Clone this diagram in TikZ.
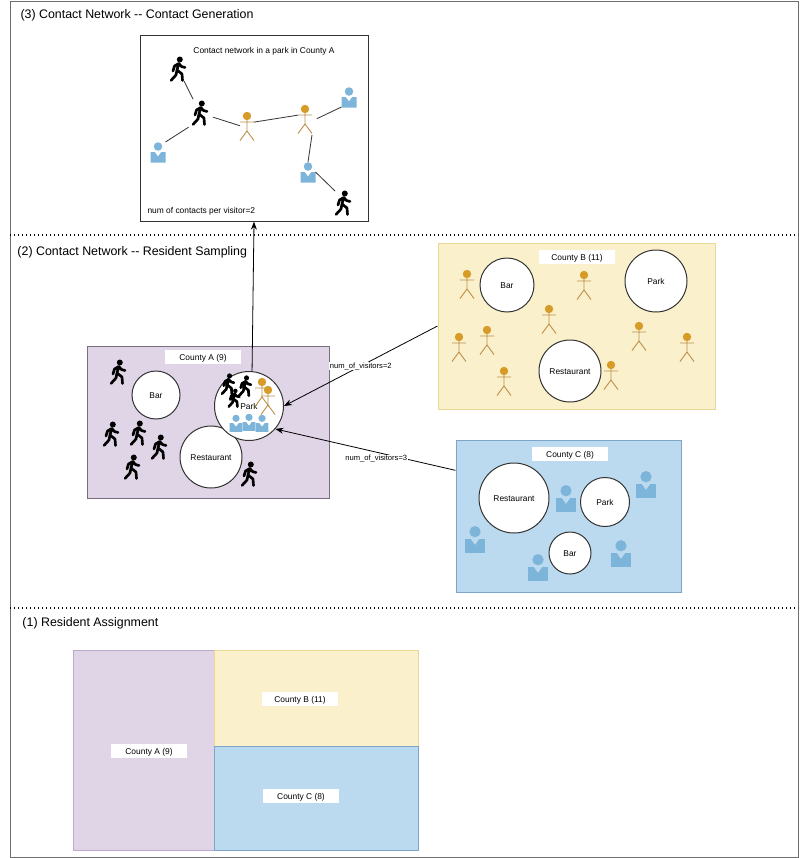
\documentclass[tikz,border=0pt]{standalone}
\usepackage{fontspec}
\setmainfont{Liberation Sans}
\usetikzlibrary{arrows.meta}

\definecolor{frameclr}{RGB}{110,110,110}
\definecolor{clrA}{RGB}{223,213,230}
\definecolor{clrAedge}{RGB}{120,110,125}
\definecolor{clrB}{RGB}{251,240,204}
\definecolor{clrBedge}{RGB}{232,216,150}
\definecolor{clrC}{RGB}{187,218,239}
\definecolor{clrCedge}{RGB}{125,165,200}
\definecolor{mapAedge}{RGB}{188,170,205}
\definecolor{actorclr}{RGB}{215,155,40}
\definecolor{actorline}{RGB}{190,145,75}
\definecolor{personclr}{RGB}{125,180,218}

\tikzset{every picture/.style={line width=0.75pt}}
\tikzset{
	titletxt/.style={anchor=west,inner sep=0pt,font=\fontsize{9.3}{11}\selectfont},
	smalltxt/.style={inner sep=0pt,text height=5pt,text depth=0.2pt,font=\fontsize{6.3}{8}\selectfont},
	countylbl/.style={smalltxt,fill=white,minimum width=57pt,minimum height=10.5pt},
	edgelbl/.style={inner sep=0.5pt,fill=white,font=\fontsize{5.7}{7}\selectfont},
	county/.style={draw=#1edge,fill=#1},
	place/.style={circle,draw=black!80,fill=white,inner sep=0pt,text height=5pt,text depth=0.2pt,font=\fontsize{6.3}{8}\selectfont},
	figbox/.style={inner sep=0pt,outer sep=0pt},
	link/.style={draw=black!80,line width=0.6pt},
	visit/.style={draw=black,line width=0.6pt,-{Stealth[length=6pt,width=4.5pt]}},
	walkerfig/.pic={
		\fill[black] (1.8,-9.5) circle (3);
		\draw[black,line width=2pt,line cap=round,line join=round]
			(0.8,-5.5) -- (-1,1) -- (-2,6) -- (-7,11.5)
			(-1,1) -- (4,5) -- (4.5,11.5)
			(0.8,-5.5) -- (-3.5,-3) -- (-5,2)
			(0.8,-5.5) -- (3.5,-2.5) -- (7,-1.5);
	},
	actorfig/.pic={
		\draw[actorline,line width=0.7pt] (0,-8) -- (0,3) (-7,-6) -- (7,-6)
			(-7,12.5) -- (0,3) -- (7,12.5);
		\fill[actorclr] (0,-12) circle (4.2);
	},
	personfig/.pic={
		\fill[personclr] (0,-5.5) circle (4.25);
		\fill[personclr] (-7.5,0) -- (-3.3,0) -- (0,4.5) -- (3.3,0) -- (7.5,0) -- (7.5,10.5) -- (-7.5,10.5) -- cycle;
	},
}

% figures: name, position
\newcommand{\walker}[3][1]{\node (#2) [figbox,minimum width=12pt,minimum height=18pt] at (#3) {}; \pic[scale=#1,yscale=-1] at (#3) {walkerfig};}
\newcommand{\actor}[2]{\node (#1) [figbox,minimum width=10.5pt,minimum height=21pt] at (#2) {}; \pic[yscale=-1] at (#2) {actorfig};}
\newcommand{\person}[3][1]{\node (#2) [figbox,minimum width=11.25pt,minimum height=15pt] at (#3) {}; \pic[scale=#1,yscale=-1] at (#3) {personfig};}

\begin{document}
\begin{tikzpicture}[x=0.75pt,y=0.75pt,yscale=-1,xscale=1]
	\useasboundingbox (0,0) rectangle (800,858);

	%outer frame and separators
	\draw [frameclr] (10,1) rectangle (798,857);
	\draw [black,dotted,line width=1pt] (10,235) -- (798,235);
	\draw [black,dotted,line width=1pt] (10,608) -- (798,608);

	% Text Node
	\node (titleC) [titletxt] at (20,15) {(3) Contact Network -{}- Contact Generation};
	\node (titleB) [titletxt] at (17,252) {(2) Contact Network -{}- Resident Sampling};
	\node (titleA) [titletxt] at (22,623) {(1) Resident Assignment};

	%contact network
	\node (network) [draw=black!80,fill=white,minimum width=171pt,minimum height=139pt,inner sep=0pt] at (254,128.5) {};
	\node (networktitle) [smalltxt] at (264,50) {Contact network in a park in County A};
	\node (networknum) [smalltxt,anchor=west] at (147,210) {num of contacts per visitor=2};
	\walker{nw1}{178,69}
	\walker{nw2}{200,113}
	\walker{nw3}{343,203}
	\person{np1}{158,152}
	\person{np2}{349,97}
	\person{np3}{308,172}
	\actor{na1}{247,128}
	\actor{na2}{305,121}
	\draw [link,shorten >=1.5pt] (nw1) -- (nw2);
	\draw [link,shorten >=3pt] (np1.north east) -- (nw2.south west);
	\draw [link,shorten <=4pt] (nw2) -- (na1);
	\draw [link] (na1.40) -- (na2.140);
	\draw [link,shorten <=4pt] (na2.east) -- (np2.south west);
	\draw [link] (na2.south east) -- (np3.north);
	\draw [link] (np3.east) -- (nw3.north west);

	%county A
	\node (countyA) [county=clrA,minimum width=181.5pt,minimum height=114pt] at (208,422) {};
	\node (lblA) [countylbl] at (203,357) {County A (9)};
	\node (barA) [place,minimum size=36pt] at (156,395) {Bar};
	\node (restA) [place,minimum size=46.5pt] at (211,457) {Restaurant};
	\node (parkA) [place,minimum size=51.75pt] at (249,406) {Park};
	\walker{wa1}{118,372}
	\walker{wa2}{111,434}
	\walker{wa3}{138,433}
	\walker{wa4}{159,447}
	\walker{wa5}{132,467}
	\walker{wa6}{249,474}
	\walker[0.85]{wa7}{228,384}
	\walker[0.85]{wa8}{245,386}
	\walker[0.75]{wa9}{234,398}
	\actor{aa1}{262,394}
	\actor{aa2}{268,402}
	\person[0.85]{pa1}{236,423}
	\person[0.85]{pa2}{249,422}
	\person[0.85]{pa3}{262,423}

	%county B
	\node (countyB) [county=clrB,minimum width=207.75pt,minimum height=124.5pt] at (576.5,326) {};
	\node (lblB) [countylbl] at (577,257) {County B (11)};
	\node (barB) [place,minimum size=40.5pt] at (507,285) {Bar};
	\node (parkB) [place,minimum size=46.5pt] at (656,281) {Park};
	\node (restB) [place,minimum size=46.5pt] at (570,371) {Restaurant};
	\foreach \nm/\pos in {b1/{467,286},b2/{584,287},b3/{549,321},b4/{487,342},b5/{459,349},b6/{639,338},b7/{687,349},b8/{611,377},b9/{504,383}}
		{\actor{\nm}{\pos}}

	%county C
	\node (countyC) [county=clrC,minimum width=168.75pt,minimum height=114pt] at (568.5,516) {};
	\node (lblC) [countylbl] at (570,454) {County C (8)};
	\node (restC) [place,minimum size=52.5pt] at (514,498) {Restaurant};
	\node (parkC) [place,minimum size=36.75pt] at (605,502) {Park};
	\node (barC) [place,minimum size=31.5pt] at (570,553) {Bar};
	\foreach \nm/\pos in {c1/{566,498},c2/{646,484},c3/{475,539},c4/{538,567},c5/{621,553}}
		{\person[1.33]{\nm}{\pos}}

	%visitors
	\draw [visit] (parkA.85) -- (network.south);
	\draw [visit] (countyB.west) -- (parkA.east) node (visitB) [edgelbl,pos=0.5] {num\_of\_visitors=2};
	\draw [visit] (countyC.158) -- (parkA.-41) node (visitC) [edgelbl,pos=0.44,yshift=-5pt] {num\_of\_visitors=3};

	%resident assignment
	\node (mapA) [draw=mapAedge,fill=clrA,minimum width=105.75pt,minimum height=150pt] at (143.5,750.5) {};
	\node (mapB) [county=clrB,minimum width=153pt,minimum height=72.5pt] at (316,698.5) {};
	\node (mapC) [county=clrC,minimum width=153pt,minimum height=77.5pt] at (316,798.5) {};
	\node (maplblA) [countylbl] at (149,751) {County A (9)};
	\node (maplblB) [countylbl] at (300,699) {County B (11)};
	\node (maplblC) [countylbl] at (301,796) {County C (8)};
\end{tikzpicture}
\end{document}
